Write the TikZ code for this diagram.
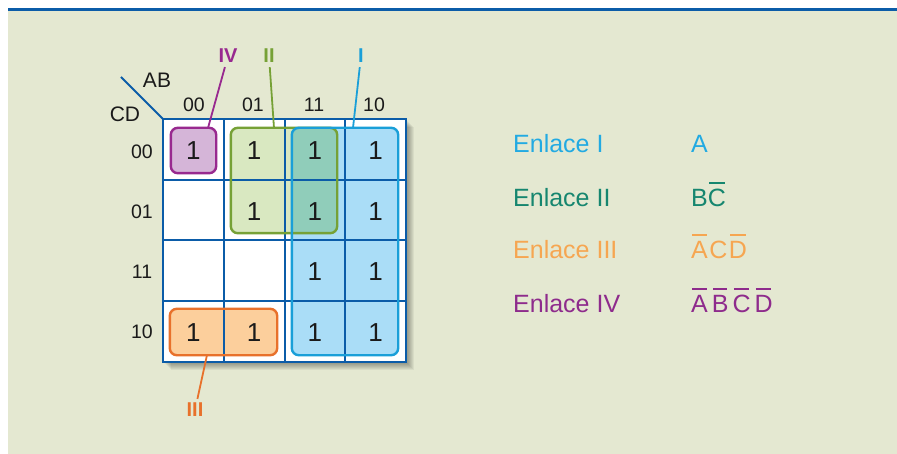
\documentclass[tikz,border=0pt]{standalone}
\usepackage{fontspec}
\setmainfont{Liberation Sans}
\usepackage{tikz}
\usetikzlibrary{calc,positioning}
\definecolor{gridblue}{HTML}{0B5CA8}
\definecolor{panelbg}{HTML}{E4E8D1}
\definecolor{loopone}{HTML}{1A9FD8}
\definecolor{looptwo}{HTML}{76A136}
\definecolor{loopthree}{HTML}{E8712B}
\definecolor{loopfour}{HTML}{98298F}
\definecolor{fillone}{HTML}{AADDF7}
\definecolor{filltwo}{HTML}{D9E8C1}
\definecolor{fillthree}{HTML}{FCCF9C}
\definecolor{fillfour}{HTML}{D5B5D8}
\definecolor{fillmix}{HTML}{90CDBA}
\definecolor{txtone}{HTML}{22AAE2}
\definecolor{txttwo}{HTML}{16866F}
\definecolor{txtthree}{HTML}{F6A651}
\definecolor{txtfour}{HTML}{8E2B8C}
\definecolor{inkx}{HTML}{1A1A1A}
\newcommand{\ovbar}[1]{\setbox0\hbox{#1}\rlap{\hspace{1.2pt}\raisebox{\dimexpr\ht0+6pt\relax}{\rule{\dimexpr\wd0-2.4pt\relax}{2pt}}}\box0}
\tikzset{
  loopfill/.style={rectangle,rounded corners=7pt,inner sep=0pt},
  loopline/.style={line width=2.4pt,rounded corners=7pt},
  leader/.style={line width=1.8pt},
  tag/.style={font=\fontsize{20}{24}\selectfont\bfseries,inner sep=4pt},
  one/.style={font=\fontsize{26}{30}\selectfont,text=inkx,inner sep=0pt},
  head/.style={font=\fontsize{19.5}{22}\selectfont,text=inkx,inner sep=0pt},
  legend/.style={font=\fontsize{25}{30}\selectfont,anchor=base west,inner sep=0pt}
}

\begin{document}
\begin{tikzpicture}[x=1pt,y=-1pt]
\useasboundingbox (0,0) rectangle (897,454);
% panel
\fill[panelbg] (8,10) rectangle (897,454);
\draw[gridblue,line width=3pt] (8,10) -- (897,10);
% map corners
\coordinate (kNW) at (163,119); \coordinate (kSE) at (406,362);
\foreach \s in {2,...,8}
  \fill[black,opacity=.05] ($(kNW)+(\s,\s)$) rectangle ($(kSE)+(\s,\s)$);
\fill[white] (kNW) rectangle (kSE);
% loop fills
\node[loopfill,fill=fillone,minimum width=106pt,minimum height=227pt] (lI) at (345,241.5) {};
\node[loopfill,fill=filltwo,minimum width=106pt,minimum height=105pt] (lII) at (284,180.5) {};
\node[loopfill,fill=fillthree,minimum width=107pt,minimum height=46pt] (lIII) at (223.5,332) {};
\node[loopfill,fill=fillfour,minimum width=45pt,minimum height=45pt] (lIV) at (193.5,150.5) {};
\begin{scope}
\clip[rounded corners=7pt] (lII.north west) rectangle (lII.south east);
\fill[fillmix,rounded corners=7pt] (lI.north west) rectangle (lI.south east);
\end{scope}
% grid
\foreach \i in {1,2,3} {
  \draw[gridblue,line width=2pt] ({163+60.75*\i},119) -- ({163+60.75*\i},362);
  \draw[gridblue,line width=2pt] (163,{119+60.75*\i}) -- (406,{119+60.75*\i});
}
\draw[gridblue,line width=2.6pt] (kNW) rectangle (kSE);
% loop outlines
\draw[loopline,looptwo] (lII.north west) rectangle (lII.south east);
\draw[loopline,loopone] (lI.north west) rectangle (lI.south east);
\draw[loopline,loopthree] (lIII.north west) rectangle (lIII.south east);
\draw[loopline,loopfour] (lIV.north west) rectangle (lIV.south east);
% ones
\foreach \r/\c in {1/1,1/2,1/3,1/4,2/2,2/3,2/4,3/3,3/4,4/1,4/2,4/3,4/4}
  \node[one] (c\r\c) at ({163+60.75*(\c-.5)},{120+60.75*(\r-.5)}) {1};
% headings
\coordinate (kcorner) at (121,77);
\draw[gridblue,line width=1.8pt] (kcorner) -- (kNW);
\node[head,font=\fontsize{21}{24}\selectfont] (ab) at (157,80) {AB};
\node[head,font=\fontsize{21}{24}\selectfont] (cd) at (125,114) {CD};
\node[head] (col1) at (194,105) {00};
\node[head] (col2) at (253,105) {01};
\node[head] (col3) at (314,105) {11};
\node[head] (col4) at (374,105) {10};
\node[head] (row1) at (142,152) {00};
\node[head] (row2) at (142,212) {01};
\node[head] (row3) at (142,272) {11};
\node[head] (row4) at (142,332) {10};
% loop tags
\node[tag,text=loopfour] (tIV) at (228,56) {IV};
\node[tag,text=looptwo] (tII) at (269,56) {II};
\node[tag,text=loopone] (tI) at (361,56) {I};
\node[tag,text=loopthree] (tIII) at (195,410) {III};
\coordinate (eIV) at (208,128); \coordinate (eII) at (274,128);
\coordinate (eI) at (353,128); \coordinate (eIII) at (207,355);
\draw[leader,loopfour] (tIV) -- (eIV);
\draw[leader,looptwo] (tII) -- (eII);
\draw[leader,loopone] (tI) -- (eI);
\draw[leader,loopthree] (tIII) -- (eIII);
% legend
\node[legend,text=txtone] (enI) at (513,153) {Enlace I};
\node[legend,text=txttwo] (enII) at (513,207) {Enlace II};
\node[legend,text=txtthree] (enIII) at (513,259) {Enlace III};
\node[legend,text=txtfour] (enIV) at (513,313) {Enlace IV};
\node[legend,text=txtone] (exI) at (691,153) {A};
\node[legend,text=txttwo] (exII) at (691,207) {B\ovbar{C}};
\node[legend,text=txtthree] (exIII) at (691,259) {\ovbar{A}\hspace{1.5pt}C\hspace{1.5pt}\ovbar{D}};
\node[legend,text=txtfour] (exIV) at (691,313) {\ovbar{A}\hspace{4pt}\ovbar{B}\hspace{4pt}\ovbar{C}\hspace{4pt}\ovbar{D}};
\end{tikzpicture}
\end{document}
